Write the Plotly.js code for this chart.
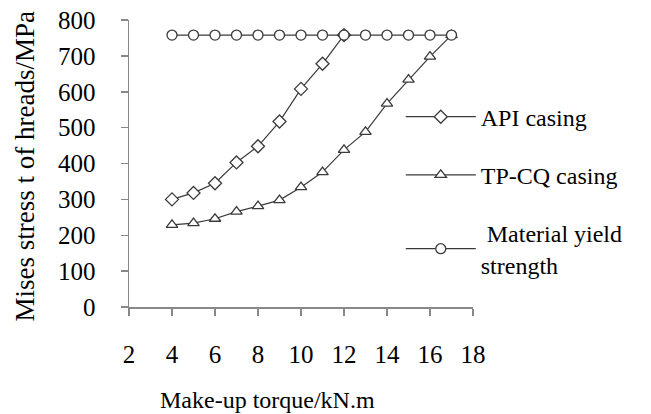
<!DOCTYPE html>
<html><head><meta charset="utf-8">
<script src="https://cdn.plot.ly/plotly-3.0.1.min.js"></script>
<style>html,body{margin:0;padding:0;background:#fff}</style>
</head><body><div id="chart" style="width:651px;height:414px"></div>
<script>
const torqueAPI = [4,5,6,7,8,9,10,11,12];
const stressAPI = [300,318,345,403,448,517,608,678,758];
const torqueTP = [4,5,6,7,8,9,10,11,12,13,14,15,16,17];
const stressTP = [229,234,246,266,281,298,334,376,438,488,567,634,698,758];
const torqueYield = [4,5,6,7,8,9,10,11,12,13,14,15,16,17];
const stressYield = [758,758,758,758,758,758,758,758,758,758,758,758,758,758];
const seriesNames = ['API casing','TP-CQ casing',' Material yield<br>strength'];
const xTicks = [2,4,6,8,10,12,14,16,18];
const yTicks = [0,100,200,300,400,500,600,700,800];

const F = 'Liberation Serif';
const lineC = '#3a3a3a';
function tr(x,y,name,sym,g){
  return {x:x,y:y,name:name,type:'scatter',mode:'lines+markers',legendgroup:g,
    line:{color:lineC,width:1.2},
    marker:{symbol:sym,size:10,color:'#fff',line:{color:lineC,width:1.3}}};
}
const data = [
  tr(torqueAPI,stressAPI,seriesNames[0],'diamond','a'),
  tr(torqueTP,stressTP,seriesNames[1],'triangle-up','b'),
  tr(torqueYield,stressYield,seriesNames[2],'circle','c')
];
const layout = {
  width:651,height:414,margin:{l:129,r:178,t:20,b:107},
  paper_bgcolor:'#fff',plot_bgcolor:'#fff',
  font:{family:F,size:24,color:'#000'},
  showlegend:true,
  legend:{x:0.79,y:0.74,xanchor:'left',yanchor:'top',traceorder:'grouped',tracegroupgap:24,itemwidth:70,
    font:{family:F,size:24,color:'#000'},bgcolor:'rgba(0,0,0,0)'},
  xaxis:{range:[2,18],tickvals:xTicks,ticktext:xTicks.map(String),showgrid:false,zeroline:false,
    showline:true,linecolor:'#888',linewidth:1.5,ticks:'outside',ticklen:7,tickcolor:'#888',tickwidth:1.5,
    ticklabelstandoff:17,tickfont:{family:F,size:25,color:'#000'}},
  yaxis:{range:[0,800],tickvals:yTicks,ticktext:yTicks.map(String),showgrid:false,zeroline:false,
    showline:true,linecolor:'#888',linewidth:1.5,ticks:'outside',ticklen:7,tickcolor:'#888',tickwidth:1.5,
    ticklabelstandoff:20,tickfont:{family:F,size:25,color:'#000'}},
  annotations:[
    {text:'Make-up torque/kN.m',xref:'paper',yref:'paper',x:0.404,y:-0.324,xanchor:'center',yanchor:'middle',showarrow:false,font:{family:F,size:24,color:'#000'}},
    {text:'Mises stress t of hreads/MPa',xref:'paper',yref:'paper',x:-0.302,y:0.49,xanchor:'center',yanchor:'middle',textangle:-90,showarrow:false,font:{family:F,size:27,color:'#000'}}
  ]
};
Plotly.newPlot('chart',data,layout,{displayModeBar:false,staticPlot:true});
</script></body></html>
